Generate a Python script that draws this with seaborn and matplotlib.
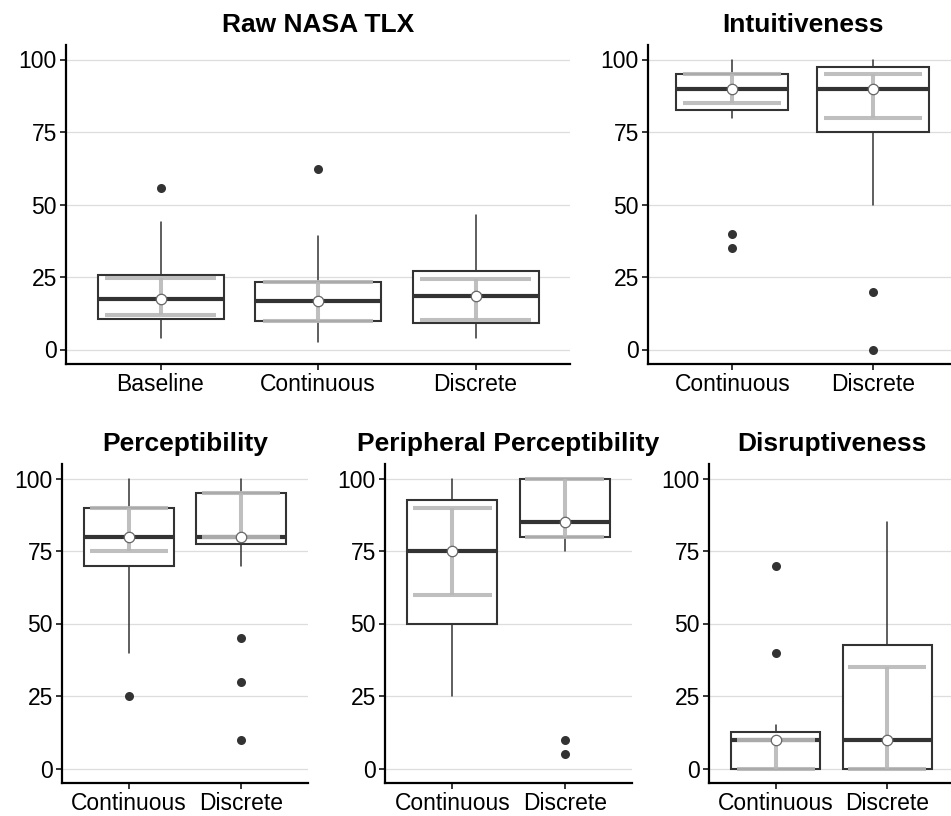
import matplotlib
matplotlib.use("Agg")
import matplotlib.pyplot as plt
import numpy as np
import pandas as pd
import seaborn as sns

# summary values, one entry per panel
panel_titles = ["Raw NASA TLX", "Intuitiveness", "Perceptibility",
                "Peripheral Perceptibility", "Disruptiveness"]
panel_groups = [["Baseline", "Continuous", "Discrete"],
                ["Continuous", "Discrete"],
                ["Continuous", "Discrete"],
                ["Continuous", "Discrete"],
                ["Continuous", "Discrete"]]
medians = [[17.5, 16.7, 18.4], [90, 90], [80, 80], [75, 85], [10, 10]]
q1 = [[10.4, 9.9, 9.2], [82.5, 75], [70, 77.5], [50, 80], [0, 0]]
q3 = [[25.8, 23.4, 27.1], [95, 97.5], [90, 95], [92.5, 100], [12.5, 42.5]]
whisk_lo = [[4.1, 2.6, 4.1], [80, 50], [40, 70], [25, 75], [0, 0]]
whisk_hi = [[44.1, 39.1, 46.5], [100, 100], [100, 100], [100, 100], [15, 85]]
ci_lo = [[12.0, 9.9, 10.3], [85, 80], [75, 80], [60, 80], [0, 0]]
ci_hi = [[24.8, 23.4, 24.2], [95, 95], [90, 95], [90, 100], [10, 35]]
outliers = [[[55.8], [62.4], []],
            [[40, 35], [20, 0]],
            [[25], [45, 30, 10]],
            [[], [10, 5]],
            [[70, 40], []]]

y_ticks = [0, 25, 50, 75, 100]

# axes boxes in pixels: left, top, right, bottom
W, H = 951, 816
boxes_px = [(66, 45, 570, 364), (648, 45, 957, 364),
            (62, 464, 308, 783), (385, 464, 632, 783), (709, 464, 954, 783)]

sns.set_theme(style="ticks")
plt.rcParams["font.family"] = ["Liberation Sans", "DejaVu Sans"]
plt.rcParams["text.color"] = "black"
plt.rcParams["axes.titlecolor"] = "black"

dark = "#333333"
fig = plt.figure(figsize=(W / 100, H / 100), dpi=100)

for i, title in enumerate(panel_titles):
    l, t, r, b = boxes_px[i]
    ax = fig.add_axes([l / W, 1 - b / H, (r - l) / W, (b - t) / H])
    groups = panel_groups[i]
    n = len(groups)
    pos = np.arange(n)

    stats = []
    for j in range(n):
        stats.append(dict(med=medians[i][j], q1=q1[i][j], q3=q3[i][j],
                          whislo=whisk_lo[i][j], whishi=whisk_hi[i][j],
                          fliers=[]))
    ax.bxp(stats, positions=pos, widths=0.8, showfliers=False, showcaps=False,
           patch_artist=True,
           boxprops=dict(facecolor="white", edgecolor=dark, linewidth=1.5),
           medianprops=dict(color=dark, linewidth=3.0, solid_capstyle="butt"),
           whiskerprops=dict(color=dark, linewidth=1.1))

    # grey interval around the median
    lo = np.array(ci_lo[i])
    hi = np.array(ci_hi[i])
    ax.vlines(pos, lo, hi, color="#b8b8b8", alpha=0.9, linewidth=2.9, zorder=4)
    ax.hlines(lo, pos - 0.35, pos + 0.35, color="#b8b8b8", alpha=0.9,
              linewidth=2.9, zorder=4)
    ax.hlines(hi, pos - 0.35, pos + 0.35, color="#b8b8b8", alpha=0.9,
              linewidth=2.9, zorder=4)

    # outliers
    rows = [(g, v) for g, vals in zip(groups, outliers[i]) for v in vals]
    df = pd.DataFrame(rows, columns=["group", "value"])
    sns.stripplot(data=df, x="group", y="value", order=groups, jitter=False,
                  color=dark, size=6.5, linewidth=0, zorder=5, ax=ax)

    # median dots
    ax.plot(pos, medians[i], linestyle="none", marker="o", markersize=7.5,
            markerfacecolor="white", markeredgecolor="#666666",
            markeredgewidth=0.9, zorder=6)

    ax.set_xlim(-0.6, n - 0.4)
    ax.set_ylim(-5, 105)
    ax.set_xticks(pos)
    ax.set_xticklabels(groups)
    ax.set_yticks(y_ticks)
    ax.set_xlabel("")
    ax.set_ylabel("")
    ax.yaxis.grid(True, color="#dddddd", linewidth=0.9)
    ax.xaxis.grid(False)
    ax.set_axisbelow(True)
    for side in ["top", "right"]:
        ax.spines[side].set_visible(False)
    for side in ["left", "bottom"]:
        ax.spines[side].set_color("black")
        ax.spines[side].set_linewidth(1.6)
    ax.tick_params(axis="both", length=4, width=1.1, color="black",
                   labelsize=16.5, pad=2.5, labelcolor="black")
    ax.set_title(title, fontsize=19, fontweight="bold", pad=9, color="black")

fig.savefig("out.png", dpi=100)
